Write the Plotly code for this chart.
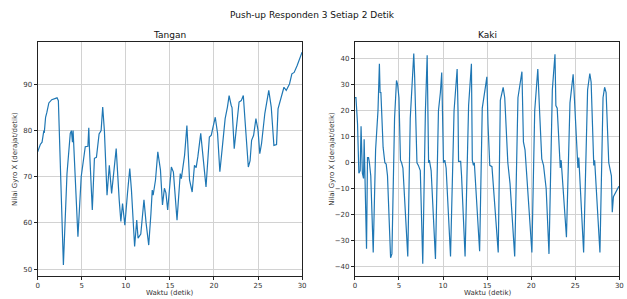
import plotly.graph_objects as go

# ---- data ----
tangan_t = [0.0, 0.3, 0.5, 0.7, 0.75, 0.9, 1.05, 1.27, 1.6, 2.0, 2.2, 2.35, 2.5, 2.92, 3.33, 3.7, 3.83, 3.95,
            4.02, 4.57, 4.94, 5.0, 5.2, 5.4, 5.7, 5.8, 5.88, 6.2, 6.44, 6.67, 6.97, 7.2, 7.38, 7.57, 7.87, 8.13,
            8.39, 8.61, 8.91, 9.25, 9.44, 9.63, 9.89, 10.19, 10.45, 10.64, 11.0, 11.24, 11.39, 11.7, 12.06,
            12.3, 12.6, 12.85, 13.0, 13.1, 13.37, 13.63, 13.93, 14.16, 14.38, 14.55, 14.75, 15.17, 15.4, 15.81,
            16.18, 16.3, 16.48, 16.67, 16.93, 17.23, 17.53, 17.79, 17.98, 18.17, 18.5, 18.73, 19.1, 19.48,
            19.7, 19.85, 20.15, 20.41, 20.67, 20.97, 21.27, 21.53, 21.72, 21.95, 22.05, 22.3, 22.7, 22.85,
            23.1, 23.33, 23.5, 23.7, 23.9, 24.1, 24.27, 24.5, 24.76, 25.0, 25.2, 25.4, 25.77, 26.22, 26.5,
            26.8, 27.1, 27.27, 27.64, 27.94, 28.2, 28.57, 28.84, 29.1, 29.44, 29.8, 30.0]
tangan_v = [75.4, 77.0, 77.5, 80.0, 79.5, 82.9, 84.0, 86.0, 86.7, 87.0, 87.1, 86.5, 78.0, 50.9, 70.7, 79.4, 80.0, 77.5,
            80.0, 57.0, 70.0, 71.0, 73.2, 76.5, 76.6, 80.6, 76.0, 62.8, 74.0, 74.2, 79.3, 80.0, 85.1, 80.0, 66.0, 72.5,
            66.4, 70.7, 76.1, 65.0, 60.3, 64.2, 59.5, 66.4, 71.8, 67.1, 54.9, 60.6, 56.7, 57.6, 65.0,
            60.0, 55.2, 62.0, 67.1, 66.0, 69.3, 75.4, 71.5, 63.9, 67.5, 66.5, 62.8, 72.1, 71.0, 60.6,
            70.7, 69.6, 72.5, 74.7, 81.1, 69.3, 66.7, 72.5, 72.0, 74.3, 79.4, 74.3, 67.8, 78.6,
            79.0, 80.4, 82.9, 79.4, 71.1, 76.8, 82.6, 85.1, 87.6, 85.5, 85.0, 76.1, 82.9, 86.2,
            86.5, 87.6, 82.9, 76.5, 72.1, 73.5, 77.9, 79.0, 82.6, 80.1, 75.0, 77.2, 83.7, 88.7, 85.1,
            76.8, 77.0, 84.7, 87.6, 89.4, 88.7, 90.1, 92.3, 92.6, 94.1, 96.3, 97.0]

kaki_t = [0.0, 0.12, 0.3, 0.45, 0.6, 0.7, 0.85, 0.98, 1.05, 1.15, 1.32, 1.43, 1.55, 1.65, 1.8, 2.08, 2.35, 2.62,
          2.78, 2.86, 2.95, 3.2, 3.4, 3.55, 3.7, 4.05, 4.2, 4.5, 4.72, 4.85, 5.0, 5.17, 5.3, 5.45, 5.7, 6.0,
          6.28, 6.55, 6.68, 6.78, 7.04, 7.2, 7.42, 7.7, 8.0, 8.2, 8.3, 8.36, 8.45, 8.65, 9.14, 9.48, 9.7, 9.85,
          10.05, 10.2, 10.35, 10.85, 11.25, 11.45, 11.6, 11.7, 11.76, 12.0, 12.1, 12.5, 12.9, 13.22, 13.32,
          13.45, 13.55, 14.15, 14.45, 14.8, 14.97, 15.1, 15.3, 15.55, 16.26, 16.5, 16.82, 17.0, 17.27, 17.35,
          17.6, 18.13, 18.5, 18.8, 18.95, 19.12, 19.3, 19.5, 20.08, 20.4, 20.75, 20.95, 21.2, 21.4, 21.7,
          22.02, 22.4, 22.7, 22.8, 22.95, 23.2, 23.3, 23.4, 24.0, 24.4, 24.6, 24.76, 24.9, 25.15, 25.3, 25.4,
          25.95, 26.4, 26.65, 26.8, 27.0, 27.1, 27.2, 27.8, 28.15, 28.33, 28.5, 28.8, 29.1, 29.2, 29.33,
          29.6, 29.95]
kaki_v = [25.0, 25.0, 15.0, -4.0, -3.0, 14.0, -4.0, -6.0, 9.0, -4.0, -33.0, 2.0, 2.0, 0.0, -5.0, -34.5, 5.0, 20.0,
          38.0, 27.0, 27.0, 6.0, 0.0, -0.5, -5.0, -36.5, -35.0, 17.0, 31.6, 30.0, 25.0, 1.0, 0.0, -2.0, -20.0, -36.0,
          17.0, 35.0, 42.0, 33.0, 0.0, -1.0, -3.0, -38.8, 20.0, 41.3, 20.0, 0.0, 1.0, -3.0, -37.0, 20.0, 27.0, 34.7,
          0.0, 1.0, -2.0, -36.0, 20.0, 31.0, 36.0, 20.0, 0.5, 0.5, -5.0, -36.0, 22.0, 38.0, 1.0,
          -1.0, 0.0, -34.0, 21.0, 29.0, 33.0, 15.0, -1.0, -1.5, -34.5, 24.0, 29.0, 25.0, 2.0, 0.0,
          -8.0, -36.0, 25.0, 33.0, 35.0, 8.0, 5.0, -5.0, -34.5, 20.0, 36.0, 20.0, 1.5, -1.0, -10.0,
          -35.0, 28.0, 41.7, 22.0, 21.0, 4.0, -2.0, 1.0, -28.6, 23.0, 28.0, 34.0, 25.0, 4.0, -2.0, 2.0,
          -34.5, 28.0, 34.3, 31.0, 3.0, -1.0, 1.0, -34.5, 25.0, 29.0, 27.0, 0.0, -5.0, -19.0, -13.0,
          -11.0, -9.0]

x_ticks = [0, 5, 10, 15, 20, 25, 30]
tangan_ticks = [50, 60, 70, 80, 90]
kaki_ticks = [-40, -30, -20, -10, 0, 10, 20, 30, 40]

main_title = "Push-up Responden 3 Setiap 2 Detik"
titles = ["Tangan", "Kaki"]
x_label = "Waktu (detik)"
y_label = "Nilai Gyro X (derajat/detik)"

W, H = 627, 299
FONT = "DejaVu Sans"
LINE = "#1f77b4"

fig = go.Figure()
fig.add_trace(go.Scatter(x=tangan_t, y=tangan_v, mode="lines", line=dict(color=LINE, width=1.2),
                         xaxis="x", yaxis="y", showlegend=False))
fig.add_trace(go.Scatter(x=kaki_t, y=kaki_v, mode="lines", line=dict(color=LINE, width=1.2),
                         xaxis="x2", yaxis="y2", showlegend=False))

ydom = [(H - 276) / H, (H - 42) / H]
xd1 = [36 / W, 303 / W]
xd2 = [356.3 / W, 623.3 / W]

ax_common = dict(showline=True, mirror=True, linecolor="#222", linewidth=1,
                 showgrid=True, gridcolor="#d2d2d2", gridwidth=1,
                 ticks="outside", ticklen=3, tickcolor="#222",
                 tickfont=dict(family=FONT, size=7, color="#333"), zeroline=False)

fig.update_layout(
    width=W, height=H, margin=dict(l=0, r=0, t=0, b=0),
    paper_bgcolor="white", plot_bgcolor="white",
    xaxis=dict(domain=xd1, range=[0, 30], tickvals=x_ticks, anchor="y", **ax_common),
    yaxis=dict(domain=ydom, range=[48.5, 99.2], tickvals=tangan_ticks, anchor="x", **ax_common),
    xaxis2=dict(domain=xd2, range=[0, 30], tickvals=x_ticks, anchor="y2", **ax_common),
    yaxis2=dict(domain=ydom, range=[-43.5, 46.4], tickvals=kaki_ticks, anchor="x2", **ax_common),
)

ann = []
ann.append(dict(text=main_title, x=313 / W, y=(H - 15) / H, xref="paper", yref="paper",
                showarrow=False, font=dict(family=FONT, size=9, color="#111"), xanchor="center", yanchor="middle"))
for t, xd in zip(titles, [xd1, xd2]):
    ann.append(dict(text=t, x=(xd[0] + xd[1]) / 2, y=(H - 35) / H, xref="paper", yref="paper",
                    showarrow=False, font=dict(family=FONT, size=9, color="#111"),
                    xanchor="center", yanchor="middle"))
    ann.append(dict(text=x_label, x=(xd[0] + xd[1]) / 2, y=(H - 293) / H, xref="paper", yref="paper",
                    showarrow=False, font=dict(family=FONT, size=7, color="#333"),
                    xanchor="center", yanchor="middle"))
for xp in [13, 333]:
    ann.append(dict(text=y_label, x=xp / W, y=(ydom[0] + ydom[1]) / 2, xref="paper", yref="paper",
                    showarrow=False, textangle=-90, font=dict(family=FONT, size=7, color="#333"),
                    xanchor="center", yanchor="middle"))
fig.update_layout(annotations=ann)

fig.write_html("out.html", config={"displayModeBar": False},
               post_script="document.body.style.margin='0px';document.body.style.overflow='hidden';")
